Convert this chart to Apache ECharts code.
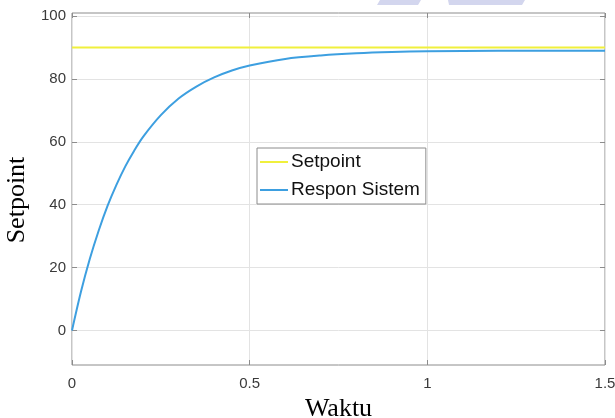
<!DOCTYPE html>
<html>
<head>
<meta charset="utf-8">
<script src="https://cdn.jsdelivr.net/npm/echarts@6/dist/echarts.min.js"></script>
<style>
html,body{margin:0;padding:0;background:#fff;}
#main{width:615px;height:418px;}
</style>
</head>
<body>
<div id="main"></div>
<script>
// waktu (detik) dan respon sistem
var waktu = [0, 0.025, 0.05, 0.075, 0.1, 0.125, 0.15, 0.175, 0.2, 0.25, 0.3, 0.35, 0.4, 0.45, 0.5, 0.6, 0.7, 0.8, 0.9, 1.0, 1.2, 1.5];
var respon = [0, 12.2, 22.7, 31.7, 39.6, 46.3, 52.2, 57.2, 61.6, 68.5, 73.8, 77.6, 80.5, 82.7, 84.3, 86.4, 87.5, 88.2, 88.6, 88.8, 89.0, 89.0];
var setpointX = [0, 1.5];
var setpointY = [90, 90];
var xTicks = [0, 0.5, 1, 1.5];
var yTicks = [0, 20, 40, 60, 80, 100];

function pairs(xs, ys){
	var out = [];
	for (var i = 0; i < xs.length; i++) { out.push([xs[i], ys[i]]); }
	return out;
}

var tickFont = { color: '#3a3a3a', fontSize: 15, fontFamily: 'Liberation Sans, Arial, sans-serif' };
var tickLine = { color: '#8c8c8c' };

var option = {
	backgroundColor: '#fff',
	animation: false,
	grid: { left: 72, right: 10, top: 13, bottom: 53, outerBoundsMode: 'none', containLabel: false,
		show: true, borderColor: '#8c8c8c', borderWidth: 1, backgroundColor: '#fff' },
	legend: {
		orient: 'vertical', left: 257, top: 148,
		padding: [4, 6, 4, 3], itemGap: 8,
		itemWidth: 28, itemHeight: 2, icon: 'rect',
		backgroundColor: '#fff', borderColor: '#8c8c8c', borderWidth: 1,
		textStyle: { color: '#111', fontSize: 19, fontFamily: 'Liberation Sans, Arial, sans-serif', padding: [0, 0, 0, -2], lineHeight: 20 },
		data: ['Setpoint', 'Respon Sistem']
	},
	xAxis: [{
		type: 'value', min: 0, max: 1.5, interval: 0.5,
		name: 'Waktu', nameLocation: 'middle', nameGap: 26,
		nameTextStyle: { color: '#000', fontSize: 26, fontFamily: 'Liberation Serif, Times New Roman, serif' },
		axisLine: { show: false, onZero: false },
		axisTick: { show: true, inside: true, length: 5, lineStyle: tickLine },
		axisLabel: Object.assign({ margin: 11, formatter: function(v){ return xTicks.indexOf(v) >= 0 ? String(v) : ''; } }, tickFont),
		splitLine: { show: true, lineStyle: { color: '#e3e3e3', width: 1 } }
	}, {
		type: 'value', position: 'top', min: 0, max: 1.5, interval: 0.5,
		axisLine: { show: false, onZero: false }, axisLabel: { show: false }, splitLine: { show: false },
		axisTick: { show: true, inside: true, length: 5, lineStyle: tickLine }
	}],
	yAxis: [{
		type: 'value', min: -11, max: 101,
		name: 'Setpoint', nameLocation: 'middle', nameGap: 40, nameRotate: 90,
		nameTextStyle: { color: '#000', fontSize: 26, fontFamily: 'Liberation Serif, Times New Roman, serif', padding: [0, 22, 0, 0] },
		axisLine: { show: false, onZero: false },
		axisTick: { show: true, inside: true, length: 5, lineStyle: tickLine, customValues: yTicks },
		axisLabel: Object.assign({ margin: 6, customValues: yTicks }, tickFont),
		splitLine: { show: true, lineStyle: { color: '#e3e3e3', width: 1 } }
	}, {
		type: 'value', position: 'right', min: -11, max: 101,
		axisLine: { show: false, onZero: false }, axisLabel: { show: false }, splitLine: { show: false },
		axisTick: { show: true, inside: true, length: 5, lineStyle: tickLine, customValues: yTicks }
	}],
	series: [{
		name: 'Setpoint', type: 'line', showSymbol: false, symbol: 'none',
		data: pairs(setpointX, setpointY),
		itemStyle: { color: '#f0f03c' },
		lineStyle: { color: '#f0f03c', width: 2 }
	}, {
		name: 'Respon Sistem', type: 'line', showSymbol: false, symbol: 'none', smooth: 0.3,
		data: pairs(waktu, respon),
		itemStyle: { color: '#3d9fe0' },
		lineStyle: { color: '#3d9fe0', width: 2 }
	}],
	graphic: [
		{ type: 'polygon', shape: { points: [[380, 0], [421, 0], [418, 5], [377, 5]] }, style: { fill: '#d3d6ee' }, silent: true },
		{ type: 'polygon', shape: { points: [[448, 0], [525, 0], [522, 5], [449, 5]] }, style: { fill: '#d3d6ee' }, silent: true }
	]
};

var myChart = echarts.init(document.getElementById('main'));
myChart.setOption(option);
</script>
</body>
</html>
